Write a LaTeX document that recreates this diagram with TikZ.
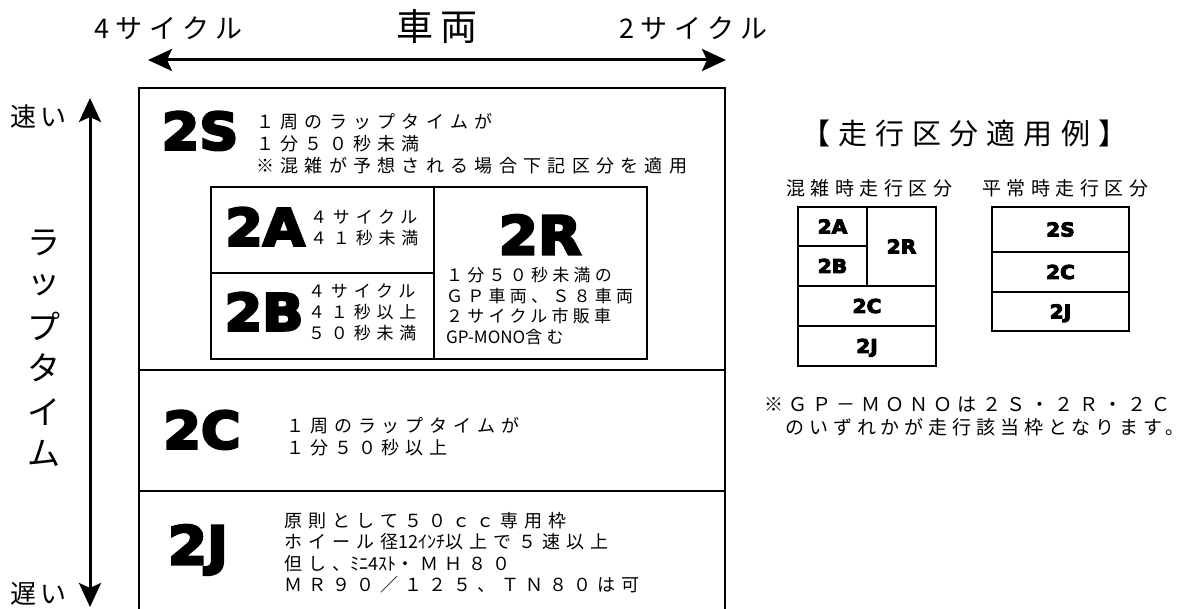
\documentclass[tikz,border=0pt]{standalone}
\usepackage{fontspec}
\usetikzlibrary{arrows.meta}
\newfontfamily\jpfont{Noto Sans CJK JP}
\newfontfamily\heavyfont[FakeBold=5,FakeStretch=1.06]{DejaVu Sans Bold}
\newcommand\jps[3]{\jpfont\addfontfeatures{LetterSpace=#2}\fontsize{#1}{#3}\selectfont}
\tikzset{
  frame/.style={draw, line width=1.8pt, inner sep=0pt, outer sep=0pt},
  cellbox/.style={draw, line width=1.6pt, inner sep=0pt, outer sep=0pt},
  mini/.style={draw, line width=1.3pt, inner sep=0pt, outer sep=0pt,
    font=\heavyfont\fontsize{19}{19}\selectfont, text height=13.9pt, text depth=0pt},
  big/.style={inner sep=0pt, font=\heavyfont\fontsize{51}{51}\selectfont,
    text height=37pt, text depth=0pt},
  bigger/.style={inner sep=0pt, font=\heavyfont\fontsize{53}{53}\selectfont,
    text height=38.6pt, text depth=0pt},
  body/.style={inner sep=0pt, anchor=west, align=left},
  dblarrow/.style={line width=3pt,
    {Stealth[length=24pt,width=22pt,inset=5pt]}-{Stealth[length=24pt,width=22pt,inset=5pt]}},
}
\begin{document}
\begin{tikzpicture}[x=1pt,y=-1pt]
\useasboundingbox (0,0) rectangle (1185,609);
\clip (0,0) rectangle (1185,609);

% top axis
\node[body, font=\jps{27}{25}{27}] (fourc) at (94,28) {4サイクル};
\node[body, font=\jps{37}{20}{37}] (sharyo) at (396,27) {車両};
\node[body, font=\jps{27}{25}{27}] (twoc) at (619,28) {2サイクル};
\coordinate (hl) at (148,60);
\coordinate (hr) at (726,60);
\draw[dblarrow] (hl) -- (hr);

% left axis
\node[body, font=\jps{26}{15}{26}] (fast) at (10,117) {速い};
\node[body, font=\jps{26}{15}{26}] (slow) at (10,594) {遅い};
\coordinate (vt) at (90,98);
\coordinate (vb) at (90,607);
\draw[dblarrow] (vt) -- (vb);
\begin{scope}[every node/.style={inner sep=0pt, font=\jpfont\fontsize{33}{33}\selectfont}]
\node (l1) at (44,243) {ラ};
\node (l2) at (44,285) {ッ};
\node (l3) at (44,326) {プ};
\node (l4) at (44,368) {タ};
\node (l5) at (44,412) {イ};
\node (l6) at (44,453) {ム};
\end{scope}

% main frame rows
\node[frame, minimum width=586, minimum height=282] (r2S) at (432,229) {};
\node[frame, minimum width=586, minimum height=121] (r2C) at (432,430.5) {};
\node[frame, minimum width=586, minimum height=140] (r2J) at (432,561) {};

% inner cells
\node[cellbox, minimum width=223, minimum height=86] (cA) at (322.5,230) {};
\node[cellbox, minimum width=223, minimum height=86] (cB) at (322.5,316) {};
\node[cellbox, minimum width=213, minimum height=172] (cR) at (540.5,273) {};

% big labels
\node[big] (b2S) at (200,131) {2S};
\node[big] (b2A) at (265,227) {2A};
\node[big] (b2B) at (264,312) {2B};
\node[bigger] (b2R) at (540,235) {2R};
\node[big] (b2C) at (202,430) {2C};
\node[bigger] (b2J) at (198,545) {2J};

% body texts
\node[body, font=\jps{18}{35}{22}] (t2S) at (256,144)
  {１周のラップタイムが\\１分５０秒未満\\※混雑が予想される場合下記区分を適用};
\node[body, font=\jps{17}{34}{21}] (t2A) at (310,227.5)
  {４サイクル\\４１秒未満};
\node[body, font=\jps{17}{34}{21}] (t2B) at (308,312)
  {４サイクル\\４１秒以上\\５０秒未満};
\node[body, font=\jps{17}{25}{20.7}] (t2R) at (446,306)
  {１分５０秒未満の\\ＧＰ車両、Ｓ８車両\\２サイクル市販車\\{\jpfont GP-MONO}含む};
\node[body, font=\jps{18}{33}{22}] (t2C) at (286,437)
  {１周のラップタイムが\\１分５０秒以上};
\node[body, font=\jps{18}{34}{21.3}] (t2J) at (284,552.8)
  {原則として５０ｃｃ専用枠\\ホイール径{\jpfont 12ｲﾝﾁ}以上で５速以上\\但し、{\jpfont ﾐﾆ4ｽﾄ}・ＭＨ８０\\ＭＲ９０／１２５、ＴＮ８０は可};

% right side
\node[body, font=\jps{29}{28}{29}] (title) at (801,133) {【走行区分適用例】};
\node[body, font=\jps{19}{29}{19}] (h1) at (786,188) {混雑時走行区分};
\node[body, font=\jps{19}{29}{19}] (h2) at (982,188) {平常時走行区分};

\node[mini, minimum width=69, minimum height=39] (mA) at (832.5,226.5) {2A};
\node[mini, minimum width=69, minimum height=40] (mB) at (832.5,266) {2B};
\node[mini, minimum width=69, minimum height=79] (mR) at (901.5,246.5) {2R};
\node[mini, minimum width=138, minimum height=40] (mC) at (867,306) {2C};
\node[mini, minimum width=138, minimum height=40] (mJ) at (867,346) {2J};

\node[mini, minimum width=137, minimum height=45] (nS) at (1060.5,229.5) {2S};
\node[mini, minimum width=137, minimum height=40] (nC) at (1060.5,272) {2C};
\node[mini, minimum width=137, minimum height=39] (nJ) at (1060.5,311.5) {2J};

\node[body, font=\jps{19}{27.5}{19}] (note1) at (764,405) {※ＧＰ－ＭＯＮＯは２Ｓ・２Ｒ・２Ｃ};
\node[body, font=\jps{19}{26}{19}] (note2) at (785,427) {のいずれかが走行該当枠となります。};
\end{tikzpicture}
\end{document}
